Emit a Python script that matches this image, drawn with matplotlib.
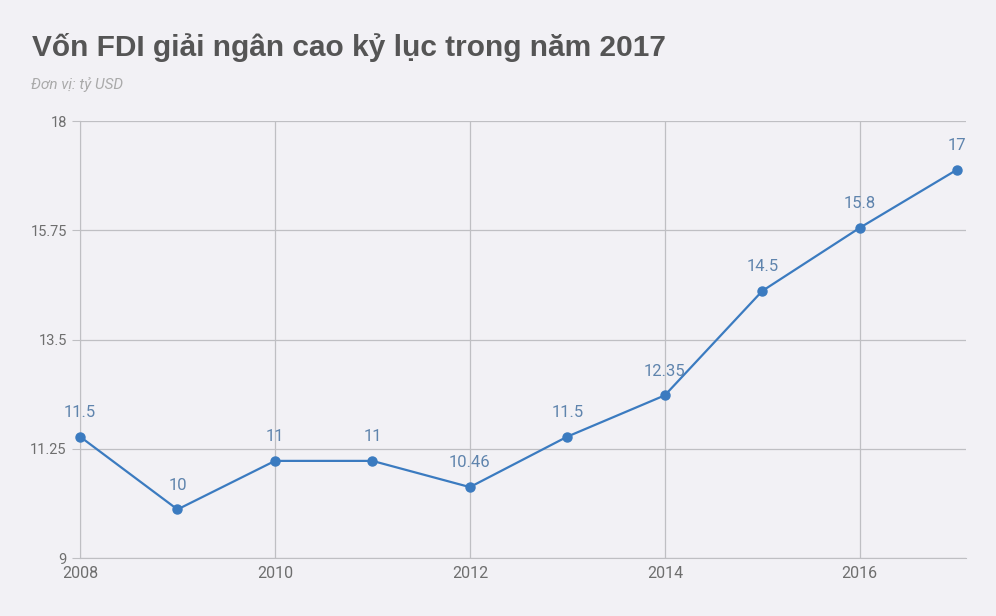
import matplotlib.pyplot as plt

years = [2008, 2009, 2010, 2011, 2012, 2013, 2014, 2015, 2016, 2017]
values = [11.5, 10, 11, 11, 10.46, 11.5, 12.35, 14.5, 15.8, 17]
labels = ["11.5", "10", "11", "11", "10.46", "11.5", "12.35", "14.5", "15.8", "17"]
yticks = [9, 11.25, 13.5, 15.75, 18]
ytick_labels = ["9", "11.25", "13.5", "15.75", "18"]
xticks = [2008, 2010, 2012, 2014, 2016]

bg = "#f2f1f5"
plt.rcParams['font.family'] = ['Liberation Sans', 'DejaVu Sans']
thin = ['Roboto', 'DejaVu Sans']

fig = plt.figure(figsize=(9.96, 6.16), dpi=100, facecolor=bg)
ax = fig.add_axes([80/996, 58/616, 886/996, 437/616], facecolor=bg)

ax.plot(years, values, color="#3b7bc0", linewidth=1.6, marker="o", markersize=6.5,
        zorder=3, clip_on=False)
for x, y, t in zip(years, values, labels):
    ax.annotate(t, (x, y), xytext=(0, 12), textcoords="offset points",
                ha="center", va="bottom", fontsize=12, color="#5f84ad",
                family=thin)

ax.set_xlim(2008, 2017.09)
ax.set_ylim(9, 18)
ax.set_yticks(yticks)
ax.set_yticklabels(ytick_labels, family=thin)
ax.set_xticks(xticks)
ax.set_xticklabels([str(v) for v in xticks], family=thin)
ax.grid(True, color="#bfbfc3", linewidth=0.9)
ax.set_axisbelow(True)
for s in ["top", "right"]:
    ax.spines[s].set_visible(False)
ax.spines["left"].set_color("#bfbfc3")
ax.spines["bottom"].set_color("#bfbfc3")
ax.tick_params(axis="y", colors="#bfbfc3", labelcolor="#6e6e6e", labelsize=10.5, length=6)
ax.tick_params(axis="x", colors="#bfbfc3", labelcolor="#6e6e6e", labelsize=11.5, length=0, pad=6)

fig.text(32/996, 1 - 48/616, "Vốn FDI giải ngân cao kỷ lục trong năm 2017", fontsize=21.5,
         fontweight="bold", color="#555555", va="center", ha="left")
fig.text(31/996, 1 - 85/616, "Đơn vị: tỷ USD", fontsize=11, style="italic",
         color="#aaaaaa", va="center", ha="left", family=thin)

fig.savefig("out.png", dpi=100, facecolor=bg)
